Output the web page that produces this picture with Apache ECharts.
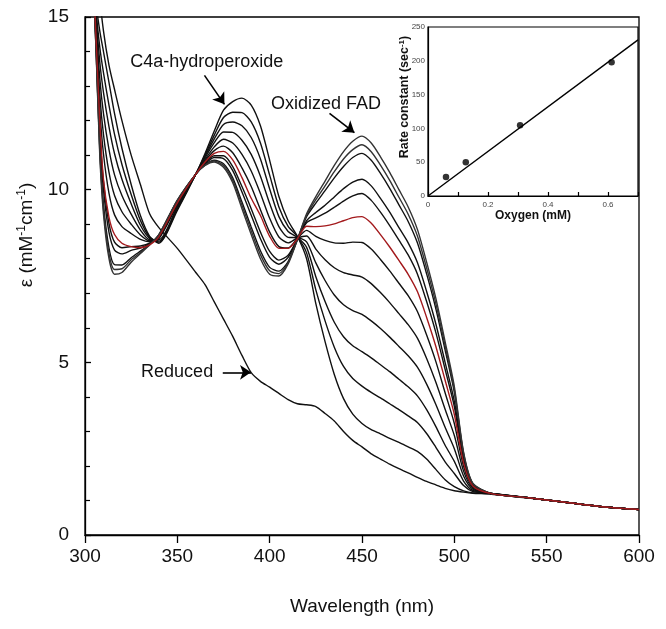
<!DOCTYPE html>
<html>
<head>
<meta charset="utf-8">
<script src="https://cdn.jsdelivr.net/npm/echarts@6/dist/echarts.min.js"></script>
<style>
html,body{margin:0;padding:0;background:#fff;}
#chart{width:666px;height:629px;}
</style>
</head>
<body>
<div id="chart"></div>
<script>
// ---- Data ----
const wavelength = [303,306,308,310,313,316,320,325,330,335,340,350,360,365,370,375,380,385,390,395,400,405,410,415,420,425,430,435,440,445,450,455,460,465,470,475,480,485,490,495,500,505,510,520,540,560,580,600];

const reduced = [20,17.5,15.6,14.6,13.6,12.9,12.0,11.0,10.15,9.3,8.9,8.3,7.6,7.25,6.75,6.25,5.75,5.2,4.7,4.45,4.28,4.1,3.92,3.8,3.77,3.72,3.52,3.3,3.0,2.74,2.55,2.35,2.2,2.05,1.92,1.8,1.67,1.55,1.45,1.35,1.28,1.24,1.21,1.18,1.07,0.95,0.82,0.74];
const c4aHydroperoxide = [18,15.4,14.6,14.0,13.1,12.2,11.2,10.15,9.25,8.65,8.45,9.4,10.45,11.05,11.7,12.3,12.55,12.65,12.45,11.85,10.85,9.8,9.1,8.65,8.0,6.7,5.6,4.65,3.95,3.5,3.23,3.05,2.93,2.8,2.68,2.55,2.42,2.2,1.9,1.6,1.4,1.28,1.22,1.2,1.08,0.95,0.82,0.74];
const trace1 = [18,15.22,14.13,13.39,12.44,11.6,10.73,9.86,9.11,8.62,8.48,9.44,10.45,11.0,11.58,12.09,12.24,12.23,11.96,11.35,10.42,9.5,8.94,8.64,8.17,7.1,6.2,5.44,4.88,4.53,4.31,4.13,3.97,3.8,3.63,3.45,3.26,2.94,2.54,2.12,1.78,1.43,1.26,1.2,1.08,0.95,0.82,0.74];
const trace2 = [18,15.05,13.7,12.82,11.82,11.04,10.3,9.59,8.97,8.59,8.51,9.48,10.45,10.96,11.47,11.89,11.96,11.85,11.51,10.89,10.02,9.22,8.79,8.62,8.33,7.48,6.76,6.16,5.74,5.48,5.31,5.13,4.93,4.73,4.51,4.29,4.03,3.63,3.14,2.6,2.13,1.56,1.29,1.2,1.08,0.95,0.82,0.74];
const trace3 = [18,14.87,13.23,12.21,11.16,10.43,9.83,9.29,8.83,8.55,8.55,9.51,10.45,10.92,11.36,11.67,11.66,11.43,11.02,10.39,9.6,8.93,8.62,8.61,8.49,7.88,7.37,6.95,6.67,6.5,6.39,6.2,5.98,5.73,5.46,5.19,4.86,4.37,3.78,3.12,2.5,1.71,1.33,1.2,1.08,0.95,0.82,0.74];
const trace4 = [18,14.69,12.76,11.6,10.5,9.83,9.36,9.0,8.69,8.52,8.58,9.55,10.45,10.87,11.24,11.46,11.35,11.02,10.54,9.89,9.17,8.63,8.46,8.6,8.66,8.28,7.97,7.74,7.6,7.53,7.47,7.28,7.02,6.73,6.41,6.09,5.7,5.11,4.42,3.64,2.88,1.85,1.36,1.2,1.08,0.95,0.82,0.74];
const trace5 = [18,14.52,12.33,11.04,9.89,9.27,8.93,8.73,8.56,8.49,8.61,9.59,10.45,10.83,11.13,11.26,11.07,10.63,10.09,9.42,8.77,8.35,8.31,8.59,8.82,8.65,8.53,8.46,8.45,8.48,8.47,8.28,7.98,7.65,7.29,6.93,6.47,5.79,5.02,4.12,3.23,1.99,1.4,1.2,1.08,0.95,0.82,0.74];
const trace6Red = [18,14.39,12.01,10.3,9.2,8.7,8.45,8.35,8.32,8.4,8.63,9.62,10.45,10.8,11.05,11.11,10.86,10.35,9.75,9.25,8.65,8.3,8.3,8.58,8.94,8.93,8.95,9.01,9.1,9.19,9.22,9.03,8.7,8.34,7.95,7.55,7.05,6.3,5.46,4.48,3.49,2.09,1.42,1.2,1.08,0.95,0.82,0.74];
const trace7 = [18,14.28,11.72,10.24,9.02,8.48,8.32,8.35,8.37,8.45,8.65,9.64,10.45,10.77,10.98,10.98,10.67,10.09,9.45,8.77,8.21,7.96,8.1,8.57,9.04,9.18,9.32,9.49,9.67,9.82,9.89,9.69,9.35,8.96,8.54,8.11,7.56,6.76,5.86,4.8,3.72,2.18,1.44,1.2,1.08,0.95,0.82,0.74];
const trace8 = [18,14.21,11.54,10.0,8.76,8.25,8.14,8.24,8.31,8.44,8.66,9.66,10.45,10.75,10.93,10.9,10.55,9.93,9.26,8.58,8.04,7.84,8.04,8.56,9.1,9.34,9.55,9.79,10.03,10.22,10.3,10.11,9.75,9.35,8.9,8.46,7.89,7.05,6.11,5.0,3.87,2.23,1.46,1.2,1.08,0.95,0.82,0.74];
const trace9 = [18,14.08,11.22,9.58,8.31,7.83,7.82,8.03,8.22,8.41,8.69,9.68,10.45,10.72,10.85,10.75,10.34,9.64,8.92,8.23,7.75,7.64,7.92,8.56,9.22,9.61,9.97,10.34,10.67,10.93,11.05,10.85,10.47,10.04,9.56,9.08,8.46,7.56,6.55,5.36,4.13,2.33,1.48,1.2,1.08,0.95,0.82,0.74];
const trace10 = [18,14.04,11.11,9.44,8.15,7.69,7.71,7.97,8.18,8.41,8.69,9.69,10.45,10.71,10.83,10.7,10.27,9.55,8.81,8.12,7.65,7.57,7.89,8.55,9.26,9.71,10.11,10.52,10.89,11.16,11.3,11.1,10.71,10.27,9.78,9.29,8.66,7.73,6.7,5.48,4.21,2.37,1.49,1.2,1.08,0.95,0.82,0.74];
const oxidizedFAD = [18,14.0,11.0,9.3,8.0,7.55,7.6,7.9,8.15,8.4,8.7,9.7,10.45,10.7,10.8,10.65,10.2,9.45,8.7,8.0,7.55,7.5,7.85,8.55,9.3,9.8,10.25,10.7,11.1,11.4,11.55,11.35,10.95,10.5,10.0,9.5,8.85,7.9,6.85,5.6,4.3,2.4,1.5,1.2,1.08,0.95,0.82,0.74];

// inset data
const oxygenMM = [0.06, 0.126, 0.307, 0.612];
const rateConstant = [28, 50, 104.5, 198];
const fitOxygen = [0, 0.7];
const fitRate = [0, 231];

// tick labels
const xTicksMain = [300,350,400,450,500,550,600];
const yTicksMain = [0,5,10,15];

// ---- Chart ----
const F = '"Liberation Sans", Arial, Helvetica, sans-serif';
const chart = echarts.init(document.getElementById('chart'), null, {renderer:'canvas'});

function pairs(xs, ys){ return xs.map((x,i)=>[x, ys[i]]); }

const blackCurves = [c4aHydroperoxide, trace1, trace2, trace3, trace4, trace5, trace7, trace8, trace9, trace10, oxidizedFAD];

const lineBase = {type:'line', showSymbol:false, symbol:'none', smooth:0.25, animation:false, silent:true, clip:true, xAxisIndex:0, yAxisIndex:0};

const series = [];
series.push(Object.assign({}, lineBase, {
  name:'Reduced', data: pairs(wavelength, reduced),
  lineStyle:{color:'#111', width:1.4},
  markPoint:{
    silent:true, animation:false, symbol:'circle', symbolSize:1,
    itemStyle:{color:'rgba(0,0,0,0)'},
    label:{show:true, position:'right', distance:0, fontSize:18, fontFamily:F, color:'#111'},
    data:[
      {coord:[324.2,13.7], label:{formatter:'C4a-hydroperoxide'}},
      {coord:[400.4,12.48], label:{formatter:'Oxidized FAD'}},
      {coord:[330.1,4.71], label:{formatter:'Reduced'}}
    ]
  }
}));
// annotation arrows (separate empty series carrying the markLine)
series.push({
  type:'line', xAxisIndex:0, yAxisIndex:0, data:[], silent:true, animation:false, symbol:'none',
  markLine:{
    silent:true, animation:false, symbol:['none','arrow'], symbolSize:11, symbolKeepAspect:true,
    itemStyle:{color:'#000'},
    lineStyle:{color:'#000', width:1.6, type:'solid'}, label:{show:false},
    data:[
      [{coord:[364.7,13.31]},{coord:[375.5,12.47]}],
      [{coord:[432.4,12.21]},{coord:[445.9,11.65]}],
      [{coord:[374.6,4.71]},{coord:[389.9,4.71]}]
    ]
  }
});
blackCurves.forEach((arr, i) => {
  series.push(Object.assign({}, lineBase, {
    data: pairs(wavelength, arr),
    lineStyle:{color: i >= 9 ? '#333' : '#111', width:1.4}
  }));
});
series.push(Object.assign({}, lineBase, {
  data: pairs(wavelength, trace6Red),
  lineStyle:{color:'#a3191c', width:1.4}, z:3
}));
// inset
series.push({type:'line', xAxisIndex:1, yAxisIndex:1, data: pairs(fitOxygen, fitRate), showSymbol:false, symbol:'none',
  lineStyle:{color:'#000', width:1.4}, animation:false, silent:true, z:6});
series.push({type:'scatter', xAxisIndex:1, yAxisIndex:1, data: pairs(oxygenMM, rateConstant), symbol:'circle', symbolSize:6.5,
  itemStyle:{color:'#000'}, animation:false, silent:true, z:7});

const option = {
  backgroundColor:'#fff',
  animation:false,
  grid:[
    {left:85, right:27, top:17, bottom:94, show:true, borderColor:'#000', borderWidth:1.3, backgroundColor:'rgba(0,0,0,0)'},
    {left:428, top:27, width:210, height:169, show:true, borderColor:'#000', borderWidth:1.2, backgroundColor:'#fff', z:5}
  ],
  xAxis:[
    {type:'value', gridIndex:0, min:xTicksMain[0], max:xTicksMain[xTicksMain.length-1], interval:50,
     axisLine:{show:true, lineStyle:{color:'#000', width:1.3}},
     axisTick:{show:true, length:8, lineStyle:{color:'#000', width:1.3}},
     axisLabel:{fontSize:19, fontFamily:F, color:'#111', margin:12},
     splitLine:{show:false},
     name:'Wavelength (nm)', nameLocation:'middle', nameGap:62,
     nameTextStyle:{fontSize:19, fontFamily:F, color:'#111'}},
    {type:'value', gridIndex:1, min:0, max:0.7, interval:0.1,
     axisLine:{show:true, lineStyle:{color:'#000', width:1.2}},
     axisTick:{show:true, inside:true, length:4, lineStyle:{color:'#000', width:1.2}},
     axisLabel:{fontSize:8, fontFamily:F, color:'#444', margin:5,
       formatter:(v)=>{ const k=Math.round(v*10); if(k%2!==0) return ''; return k===0?'0':(k/10).toFixed(1); }},
     splitLine:{show:false},
     name:'Oxygen (mM)', nameLocation:'middle', nameGap:11,
     nameTextStyle:{fontSize:12, fontWeight:'bold', fontFamily:F, color:'#111'}, z:6}
  ],
  yAxis:[
    {type:'value', gridIndex:0, min:yTicksMain[0], max:yTicksMain[yTicksMain.length-1], interval:5,
     axisLine:{show:true, lineStyle:{color:'#000', width:1.3}},
     axisTick:{show:true, inside:true, length:6, lineStyle:{color:'#000', width:1.3}},
     minorTick:{show:true, splitNumber:5, length:5, lineStyle:{color:'#000', width:1.2}},
     axisLabel:{fontSize:19, fontFamily:F, color:'#111', margin:16},
     splitLine:{show:false}},
    {type:'value', gridIndex:1, min:0, max:250, interval:50,
     axisLine:{show:true, lineStyle:{color:'#000', width:1.2}},
     axisTick:{show:false},
     axisLabel:{fontSize:8, fontFamily:F, color:'#444', margin:3},
     splitLine:{show:false}, z:6}
  ],
  graphic:[
    {type:'text', x:27, y:235, rotation:Math.PI/2, z:10,
     style:{text:'{a|ε (mM}{s|-1}{a|cm}{s|-1}{a|)}', align:'center', verticalAlign:'middle',
       rich:{a:{fontSize:19, fontFamily:F, fill:'#111', color:'#111', lineHeight:22},
             s:{fontSize:12, fontFamily:F, fill:'#111', color:'#111', verticalAlign:'top', lineHeight:22, padding:[0,0,6,0]}}}},
    {type:'text', x:405, y:97, rotation:Math.PI/2, z:10,
     style:{text:'{b|Rate constant (sec}{t|-1}{b|)}', align:'center', verticalAlign:'middle',
       rich:{b:{fontSize:12.5, fontWeight:'bold', fontFamily:F, fill:'#111', color:'#111', lineHeight:15},
             t:{fontSize:8, fontWeight:'bold', fontFamily:F, fill:'#111', color:'#111', verticalAlign:'top', lineHeight:15}}}}
  ],
  series: series
};
chart.setOption(option);
</script>
</body>
</html>
